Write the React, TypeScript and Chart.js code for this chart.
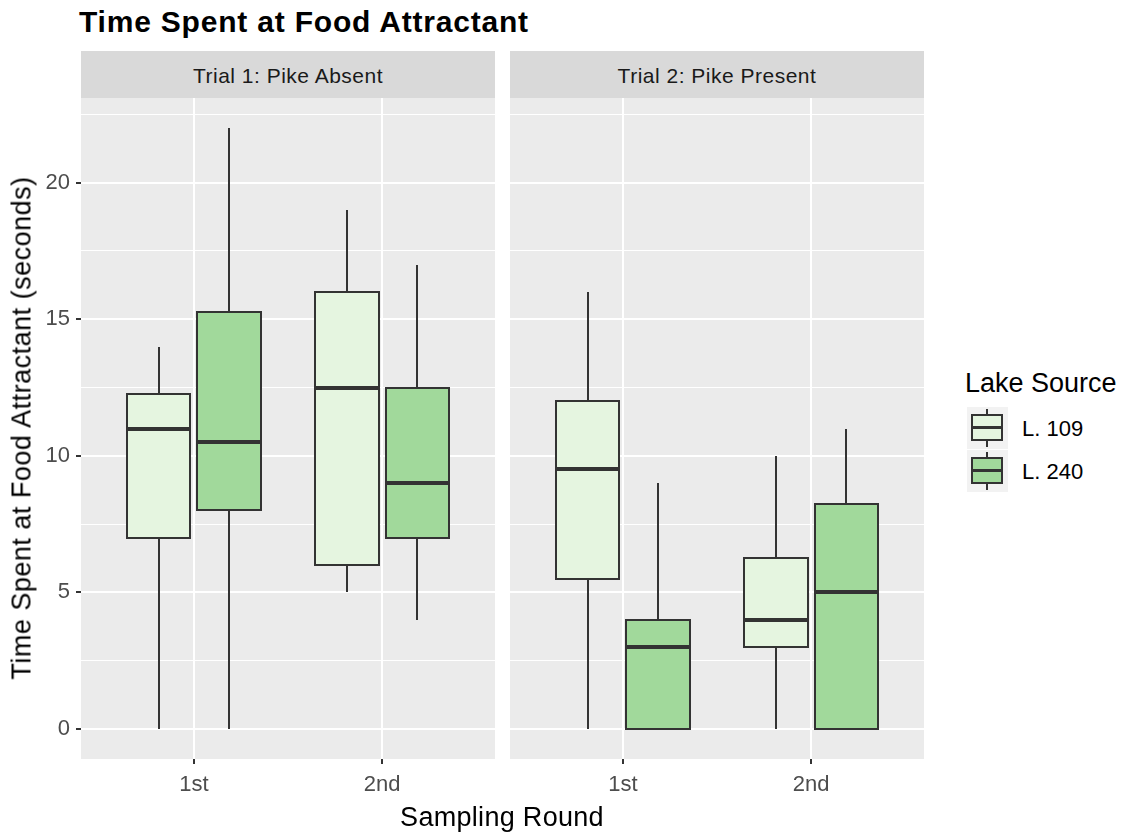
import React, { useEffect, useRef } from 'react';
import { Chart, registerables } from 'chart.js';

Chart.register(...registerables);

// Categories and labels
const rounds = ['1st', '2nd'];
const trials = ['Trial 1: Pike Absent', 'Trial 2: Pike Present'];
const lakes = ['L. 109', 'L. 240'];
const lakeFills = ['#E5F5E0', '#A1D99B'];

// Five-number summaries per sampling round: [lower whisker, Q1, median, Q3, upper whisker]
const absentL109 = [[0, 7, 11, 12.25, 14], [5, 6, 12.5, 16, 19]];
const absentL240 = [[0, 8, 10.5, 15.25, 22], [4, 7, 9, 12.5, 17]];
const presentL109 = [[0, 5.5, 9.5, 12, 16], [0, 3, 4, 6.25, 10]];
const presentL240 = [[0, 0, 3, 4, 9], [0, 0, 5, 8.25, 11]];

// Axis ticks
const yMajorTicks = [0, 5, 10, 15, 20];
const yMinorTicks = [2.5, 7.5, 12.5, 17.5, 22.5];
const xTicks = [1, 2];

const FONT = "'Liberation Sans', Arial, sans-serif";
const LINE = '#333333';
const dodge = 0.1875; // half of the dodge width (0.75 / 2 / 2)
const boxHalf = 0.16875; // half box width after dodge padding

const boxPlugin = {
  id: 'boxes',
  beforeDraw(chart: any) {
    const { ctx, chartArea: a } = chart;
    ctx.save();
    ctx.fillStyle = '#EBEBEB';
    ctx.fillRect(a.left, a.top, a.right - a.left, a.bottom - a.top);
    ctx.restore();
  },
  afterDatasetsDraw(chart: any) {
    const { ctx } = chart;
    const xs = chart.scales.x;
    const ys = chart.scales.y;
    chart.data.datasets.forEach((ds: any) => {
      ds.stats.forEach((s: number[], i: number) => {
        const cx = ds.data[i].x;
        const left = Math.round(xs.getPixelForValue(cx - boxHalf));
        const right = Math.round(xs.getPixelForValue(cx + boxHalf));
        const mid = Math.round(xs.getPixelForValue(cx));
        const [lo, q1, med, q3, hi] = s.map((v) => Math.round(ys.getPixelForValue(v)));
        ctx.save();
        ctx.strokeStyle = LINE;
        ctx.lineWidth = 2;
        ctx.beginPath();
        ctx.moveTo(mid, lo);
        ctx.lineTo(mid, q1);
        ctx.moveTo(mid, q3);
        ctx.lineTo(mid, hi);
        ctx.stroke();
        ctx.fillStyle = ds.backgroundColor;
        ctx.fillRect(left, q3, right - left, q1 - q3);
        ctx.strokeRect(left, q3, right - left, q1 - q3);
        ctx.lineWidth = 4;
        ctx.beginPath();
        ctx.moveTo(left, med);
        ctx.lineTo(right, med);
        ctx.stroke();
        ctx.restore();
      });
    });
  },
};

function buildDatasets(series: number[][][]) {
  return series.map((stats, l) => ({
    label: lakes[l],
    stats,
    data: stats.map((s, i) => ({ x: xTicks[i] + (l === 0 ? -dodge : dodge), y: s[2] })),
    backgroundColor: lakeFills[l],
    pointRadius: 0,
    showLine: false,
  }));
}

function makeChart(canvas: HTMLCanvasElement, series: number[][][], showY: boolean, yWidth: number) {
  const isMajor = (v: number) => yMajorTicks.includes(v);
  return new Chart(canvas, {
    type: 'scatter',
    data: { datasets: buildDatasets(series) as any },
    plugins: [boxPlugin],
    options: {
      responsive: false,
      animation: false,
      devicePixelRatio: 1,
      layout: { padding: 0 },
      plugins: { legend: { display: false }, tooltip: { enabled: false } },
      scales: {
        x: {
          type: 'linear',
          min: 0.4,
          max: 2.6,
          afterBuildTicks: (scale: any) => {
            scale.ticks = xTicks.map((v) => ({ value: v }));
          },
          afterFit: (scale: any) => {
            scale.height = 75;
            scale.paddingLeft = 0;
            scale.paddingRight = 0;
          },
          border: { display: false },
          grid: { color: '#FFFFFF', lineWidth: 2, tickColor: LINE, tickLength: 5 },
          ticks: {
            autoSkip: false,
            maxRotation: 0,
            padding: 8,
            color: '#4D4D4D',
            font: { family: FONT, size: 22 },
            callback: (v: any) => rounds[Number(v) - 1],
          },
        },
        y: {
          type: 'linear',
          min: -1.1,
          max: 23.1,
          afterBuildTicks: (scale: any) => {
            scale.ticks = [...yMajorTicks, ...yMinorTicks].sort((a, b) => a - b).map((v) => ({ value: v }));
          },
          afterFit: (scale: any) => {
            scale.width = yWidth;
            scale.paddingTop = 0;
            scale.paddingBottom = 0;
          },
          border: { display: false },
          grid: {
            color: '#FFFFFF',
            lineWidth: (c: any) => (isMajor(c.tick.value) ? 2 : 1),
            tickColor: (c: any) => (isMajor(c.tick.value) ? LINE : 'rgba(0,0,0,0)'),
            tickLength: showY ? 5 : 0,
            drawTicks: showY,
          },
          ticks: {
            display: showY,
            autoSkip: false,
            padding: 6,
            color: '#4D4D4D',
            font: { family: FONT, size: 22 },
            callback: (v: any) => (isMajor(Number(v)) ? String(v) : ''),
          },
        },
      },
    } as any,
  });
}

const abs = (left: number, top: number, extra: React.CSSProperties = {}): React.CSSProperties => ({
  position: 'absolute',
  left,
  top,
  fontFamily: FONT,
  whiteSpace: 'nowrap',
  ...extra,
});

function LegendKey({ top, fill }: { top: number; fill: string }) {
  return (
    <div style={abs(967, top, { width: 41, height: 42, background: '#F2F2F2' })}>
      <div style={{ position: 'absolute', left: 19, top: 2, width: 2, height: 38, background: LINE }} />
      <div
        style={{
          position: 'absolute',
          left: 4,
          top: 7,
          width: 28,
          height: 23,
          background: fill,
          border: `2px solid ${LINE}`,
        }}
      />
      <div style={{ position: 'absolute', left: 4, top: 19, width: 32, height: 3, background: LINE }} />
    </div>
  );
}

export default function App() {
  const leftRef = useRef<HTMLCanvasElement>(null);
  const rightRef = useRef<HTMLCanvasElement>(null);

  useEffect(() => {
    const c1 = makeChart(leftRef.current!, [absentL109, absentL240], true, 81);
    const c2 = makeChart(rightRef.current!, [presentL109, presentL240], false, 0);
    return () => {
      c1.destroy();
      c2.destroy();
    };
  }, []);

  return (
    <div style={{ position: 'absolute', left: 0, top: 0, width: 1126, height: 834, background: '#FFFFFF' }}>
      <div style={abs(79, 5, { fontSize: 30, fontWeight: 'bold', letterSpacing: 0.8, color: '#000000' })}>
        Time Spent at Food Attractant
      </div>

      {[81, 510].map((left, i) => (
        <div
          key={trials[i]}
          style={abs(left, 51, {
            width: 414,
            height: 47,
            background: '#D9D9D9',
            color: '#1A1A1A',
            fontSize: 21,
            letterSpacing: 0.5,
            lineHeight: '49px',
            textAlign: 'center',
          })}
        >
          {trials[i]}
        </div>
      ))}

      <canvas ref={leftRef} width={495} height={736} style={abs(0, 98, { width: 495, height: 736 })} />
      <canvas ref={rightRef} width={414} height={736} style={abs(510, 98, { width: 414, height: 736 })} />

      <div
        style={abs(22, 428, {
          fontSize: 27,
          letterSpacing: 0.5,
          color: '#000000',
          transform: 'translate(-50%, -50%) rotate(-90deg)',
        })}
      >
        Time Spent at Food Attractant (seconds)
      </div>
      <div
        style={abs(502, 817, { fontSize: 27, letterSpacing: 0.3, color: '#000000', transform: 'translate(-50%, -50%)' })}
      >
        Sampling Round
      </div>

      <div style={abs(965, 383, { fontSize: 27, color: '#000000', transform: 'translateY(-50%)' })}>Lake Source</div>
      {lakes.map((name, i) => (
        <React.Fragment key={name}>
          <LegendKey top={407 + i * 43} fill={lakeFills[i]} />
          <div style={abs(1022, 429 + i * 43, { fontSize: 22, color: '#000000', transform: 'translateY(-50%)' })}>
            {name}
          </div>
        </React.Fragment>
      ))}
    </div>
  );
}
